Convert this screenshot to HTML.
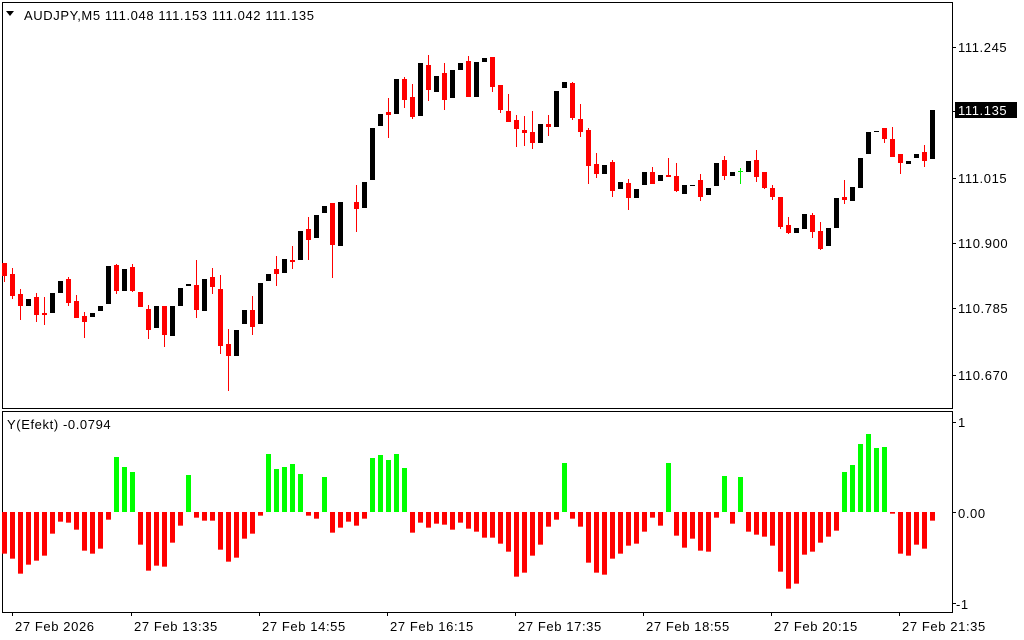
<!DOCTYPE html>
<html><head><meta charset="utf-8"><style>
html,body{margin:0;padding:0;background:#fff;width:1024px;height:640px;overflow:hidden}
svg{display:block;font-family:"Liberation Sans",sans-serif;font-size:13px;letter-spacing:0.6px}
</style></head><body>
<svg id="c" width="1024" height="640" xmlns="http://www.w3.org/2000/svg">
<rect x="0" y="0" width="1024" height="640" fill="#fff"/>
<rect x="2.5" y="2.5" width="950" height="406" fill="none" stroke="#000"/>
<rect x="2.5" y="411.5" width="950" height="201" fill="none" stroke="#000"/>
<g id="cd"></g>
<g id="hg"></g>
<text x="24" y="20" fill="#000">AUDJPY,M5  111.048 111.153 111.042 111.135</text>
<polygon points="6,11 14,11 10,16" fill="#000"/>
<text x="7" y="429" fill="#000">Y(Efekt) -0.0794</text>
<g fill="#000">
<text x="958" y="52">111.245</text>
<text x="958" y="183">111.015</text>
<text x="958" y="248">110.900</text>
<text x="958" y="313">110.785</text>
<text x="958" y="380">110.670</text>
<rect x="955" y="102" width="62" height="16" fill="#000"/>
<text x="958" y="115" fill="#fff">111.135</text>
<text x="958" y="427">1</text>
<text x="958" y="518">0.00</text>
<text x="956" y="609">-1</text>
</g>
<g stroke="#000">
<line x1="952" y1="47.5" x2="956" y2="47.5"/><line x1="952" y1="178.5" x2="956" y2="178.5"/>
<line x1="952" y1="243.5" x2="956" y2="243.5"/><line x1="952" y1="308.5" x2="956" y2="308.5"/>
<line x1="952" y1="375.5" x2="956" y2="375.5"/><line x1="952" y1="111.5" x2="956" y2="111.5"/>
<line x1="952" y1="422.5" x2="956" y2="422.5"/><line x1="952" y1="512.5" x2="956" y2="512.5"/>
<line x1="952" y1="603.5" x2="956" y2="603.5"/>
</g>
<g id="tl" fill="#000"></g>
</svg>
<script>
var NS="http://www.w3.org/2000/svg";
function el(p,t,a){var e=document.createElementNS(NS,t);for(var k in a)e.setAttribute(k,a[k]);p.appendChild(e);return e;}
var C=[[0,'r',263,276,263,282],[1,'r',274,296,268,299],[2,'r',294,306,289,320],[3,'k',299,306],[4,'r',297,315,293,322],[5,'r',313,315,297,325],[6,'k',293,313],[7,'k',281,293],[8,'r',279,303,277,306],[9,'r',301,318,295,318],[10,'r',316,322,312,338],[11,'k',313,317],[12,'k',306,311],[13,'k',266,304],[14,'r',265,291,264,294],[15,'k',269,291],[16,'r',267,291,264,292],[17,'r',292,307],[18,'r',309,330,305,339],[19,'k',306,328],[20,'r',306,335,306,347],[21,'k',306,336],[22,'k',288,306],[23,'k',284,286],[24,'r',285,310,260,318],[25,'k',279,311],[26,'r',277,287,268,294],[27,'r',289,346,275,354],[28,'r',344,356,329,391],[29,'k',330,356],[30,'k',310,324],[31,'r',310,327,296,335],[32,'k',283,324],[33,'k',274,281],[34,'r',269,274,256,286],[35,'k',259,273],[36,'r',260,262,246,269],[37,'k',231,260],[38,'r',229,240,217,260],[39,'k',215,238],[40,'k',206,213],[41,'r',203,245,203,278],[42,'k',202,246],[44,'r',202,209,185,232],[45,'k',182,208],[46,'k',128,180],[47,'k',114,126],[48,'r',112,115,98,138],[49,'k',79,114],[50,'r',79,100,77,108],[51,'r',97,117,84,119],[52,'k',63,116],[53,'r',65,90,55,101],[54,'k',76,92],[55,'r',73,100,63,110],[56,'k',70,98],[57,'k',63,70],[58,'r',61,97,56,97],[59,'k',62,97],[60,'k',58,62],[61,'r',57,87,57,92],[62,'r',85,110,85,113],[63,'r',111,122,94,122],[64,'r',120,129,115,147],[65,'r',130,133,116,146],[66,'r',132,143,111,149],[67,'k',124,143],[68,'r',124,127,115,136],[69,'k',91,127],[70,'k',82,88],[71,'r',83,118,82,120],[72,'r',119,132,104,137],[73,'r',130,166,128,184],[74,'r',164,174,153,178],[75,'k',165,174],[76,'r',162,191,160,197],[77,'k',182,189],[78,'r',183,198,179,210],[79,'k',189,198],[80,'k',172,185],[81,'r',172,184,167,184],[82,'k',175,181],[83,'r',175,177,158,177],[84,'r',176,191,163,192],[85,'k',185,194],[86,'k',185,186],[87,'r',180,197,174,201],[88,'k',188,195],[89,'k',163,186],[90,'r',160,176,156,180],[91,'k',172,176],[92,'g',171,172,168,184],[93,'k',161,172],[94,'r',160,177,150,182],[95,'r',172,188,172,189],[96,'r',188,197,185,200],[97,'r',197,227,197,229],[98,'r',225,233,217,234],[99,'k',228,233],[100,'k',214,229],[101,'r',215,232,213,238],[102,'r',231,249,222,250],[103,'k',228,246],[104,'k',198,228],[105,'r',197,200,180,204],[106,'k',187,201],[107,'k',158,188],[108,'k',132,154],[109,'k',131,132],[110,'r',128,139,128,143],[111,'r',139,157,127,157],[112,'r',154,163,154,174],[113,'k',161,164],[114,'k',154,158],[115,'r',152,161,145,167],[116,'k',110,159]];
var col={r:'#ff0000',k:'#000000',g:'#00ee00'};
var cd=document.getElementById('cd');
C.forEach(function(c){var x=4+8*c[0],f=col[c[1]];
 if(c.length>4)el(cd,'rect',{x:x,y:c[4],width:1,height:c[5]-c[4],fill:f});
 var h=Math.max(1,c[3]-c[2]);
 if(c[1]=='g')el(cd,'rect',{x:x-2,y:c[2],width:5,height:1,fill:f});
 else el(cd,'rect',{x:x-2,y:c[2],width:5,height:h,fill:f});});
var H=[371,386,431,404,392,377,311,275,278,299,362,371,356,269,81,111,126,344,422,407,410,338,287,135,263,272,272,359,395,383,326,311,257,72,117,111,102,132,257,266,141,308,293,275,287,266,84,75,90,72,114,308,278,293,281,284,299,278,296,305,
323,323,341,365,440,428,377,344,290,269,99,266,290,398,428,434,386,371,347,341,305,263,287,99,317,353,326,362,365,263,138,281,141,305,314,320,347,425,476,461,374,365,338,320,302,126,105,42,12,54,51,251,371,377,344,356,272];
var hg=document.getElementById('hg');
H.forEach(function(z,i){var y=430+z/3,x=2+8*i,g=z<246;
 var t=g?y:512,b=g?512:y;el(hg,'rect',{x:x,y:t,width:5,height:Math.max(1,b-t),fill:g?'#00ff00':'#ff0000'});});
var tl=document.getElementById('tl');
[[12,'27 Feb 2026'],[131,'27 Feb 13:35'],[259,'27 Feb 14:55'],[387,'27 Feb 16:15'],[515,'27 Feb 17:35'],[643,'27 Feb 18:55'],[771,'27 Feb 20:15'],[899,'27 Feb 21:35']].forEach(function(t){
 el(tl,'text',{x:t[0]+3,y:631}).textContent=t[1];
 el(tl,'rect',{x:t[0],y:612,width:1,height:4});});
</script>
</body></html>
